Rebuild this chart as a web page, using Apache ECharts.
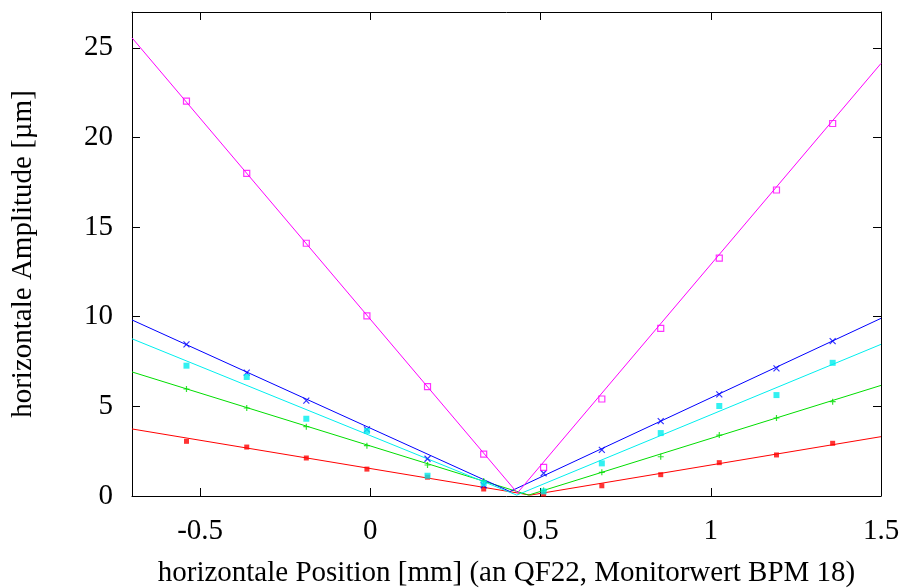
<!DOCTYPE html>
<html><head><meta charset="utf-8">
<script src="https://cdn.jsdelivr.net/npm/echarts@6/dist/echarts.min.js"></script>
<style>html,body{margin:0;padding:0;background:#fff}#c{width:902px;height:588px}</style>
</head><body><div id="c"></div>
<script>
// measurement positions [mm]
const posX = [-0.54, -0.363, -0.188, -0.01, 0.168, 0.333, 0.509, 0.68, 0.853, 1.025, 1.193, 1.358];
// measured amplitudes [µm]
const redPts     = [3.05, 2.73, 2.12, 1.50, 1.05, 0.39, 0.11, 0.57, 1.19, 1.86, 2.29, 2.94];
const greenPts   = [5.97, 4.91, 3.87, 2.81, 1.73, 0.84, 0.30, 1.32, 2.19, 3.40, 4.35, 5.26];
const bluePts    = [8.46, 6.88, 5.32, 3.72, 2.08, 0.60, 1.27, 2.57, 4.18, 5.67, 7.12, 8.64];
const magentaPts = [22.03, 18.0, 14.1, 10.05, 6.1, 2.34, 1.6, 5.41, 9.35, 13.27, 17.07, 20.78];
const cyanPts    = [7.27, 6.64, 4.31, 3.63, 1.13, 0.71, 0.26, 1.82, 3.51, 5.02, 5.63, 7.43];
// fitted V-curves: x positions and amplitudes (left edge, vertex, right edge)
const redFitX = [-0.7, 0.47, 1.5],     redFitY = [3.74, 0.05, 3.31];
const greenFitX = [-0.7, 0.465, 1.5],  greenFitY = [6.92, 0.05, 6.17];
const blueFitX = [-0.7, 0.41, 1.5],    blueFitY = [9.82, 0.25, 9.91];
const magentaFitX = [-0.7, 0.432, 1.5],magentaFitY = [25.56, 0.17, 24.13];
const cyanFitX = [-0.7, 0.43, 1.5],    cyanFitY = [8.77, 0.05, 8.46];
// tick labels
const xTicks = [-0.5, 0, 0.5, 1, 1.5];
const yTicks = [0, 5, 10, 15, 20, 25];

const FONT = 'Liberation Serif';
const FS = 29;
const zip = (a, b) => a.map((v, i) => [v, b[i]]);
const X_SYM = 'path://M0,0L10,10M10,0L0,10';
const P_SYM = 'path://M5,0L5,10M0,5L10,5';

function fit(x, y, c) {
  return {type: 'line', data: zip(x, y), showSymbol: false, silent: true,
    lineStyle: {color: c, width: 1}, z: 2, animation: false};
}
function pts(y, c, sym, size, filled) {
  return {type: 'scatter', data: zip(posX, y), symbol: sym, symbolSize: size, z: 3, animation: false,
    itemStyle: filled ? {color: c} : {color: 'rgba(255,255,255,0)', borderColor: c, borderWidth: 1.2}};
}

const chart = echarts.init(document.getElementById('c'), null, {renderer: 'canvas'});
const line = {onZero: false, lineStyle: {color: '#000', width: 1}};
const tick = vals => ({inside: true, length: 8, customValues: vals, lineStyle: {color: '#000', width: 1}});
chart.setOption({
  backgroundColor: '#fff',
  grid: {left: 132, right: 21, top: 12, bottom: 92, outerBoundsMode: 'none', containLabel: false},
  xAxis: [
    {type: 'value', min: -0.7, max: 1.5, position: 'bottom', axisLine: line, axisTick: tick(xTicks), splitLine: {show: false},
      axisLabel: {customValues: xTicks, color: '#000', fontFamily: FONT, fontSize: FS, margin: 21, formatter: v => String(v)},
      name: 'horizontale Position [mm] (an QF22, Monitorwert BPM 18)', nameLocation: 'middle', nameGap: 63,
      nameTextStyle: {color: '#000', fontFamily: FONT, fontSize: FS}},
    {type: 'value', min: -0.7, max: 1.5, position: 'top', axisLine: line, axisTick: tick(xTicks), splitLine: {show: false},
      axisLabel: {show: false}}
  ],
  yAxis: [
    {type: 'value', min: 0, max: 27, position: 'left', axisLine: line, axisTick: tick(yTicks), splitLine: {show: false},
      axisLabel: {customValues: yTicks, color: '#000', fontFamily: FONT, fontSize: FS, margin: 19, formatter: v => String(v)},
      name: 'horizontale Amplitude [µm]', nameLocation: 'middle', nameGap: 94, nameRotate: 90,
      nameTextStyle: {color: '#000', fontFamily: FONT, fontSize: FS}},
    {type: 'value', min: 0, max: 27, position: 'right', axisLine: line, axisTick: tick(yTicks), splitLine: {show: false},
      axisLabel: {show: false}}
  ],
  series: [
    fit(redFitX, redFitY, '#ff0000'),
    fit(greenFitX, greenFitY, '#00dd00'),
    fit(blueFitX, blueFitY, '#0000ff'),
    fit(magentaFitX, magentaFitY, '#ff00ff'),
    fit(cyanFitX, cyanFitY, '#00eeee'),
    pts(redPts, '#ff0000', 'rect', 5, true),
    pts(greenPts, '#00dd00', P_SYM, 6, false),
    pts(bluePts, '#0000ff', X_SYM, 6, false),
    pts(magentaPts, '#ff00ff', 'rect', 6, false),
    pts(cyanPts, '#00eeee', 'rect', 6, true)
  ]
});
</script></body></html>
